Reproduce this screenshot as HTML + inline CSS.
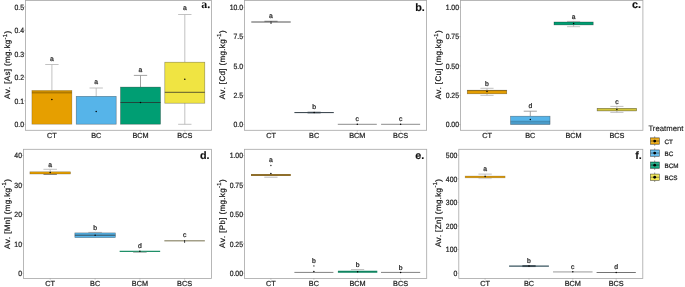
<!DOCTYPE html>
<html><head><meta charset="utf-8"><title>Boxplots</title>
<style>
html,body{margin:0;padding:0;background:#fff;}
body{width:685px;height:287px;overflow:hidden;}
svg{display:block;}
text{text-rendering:geometricPrecision;font-family:"Liberation Sans",sans-serif;fill:#1a1a1a;stroke:#222;stroke-width:0.22px;}
.tk{font-size:7.3px;fill:#1c1c1c;}
.yt{font-size:8px;letter-spacing:0.35px;font-kerning:none;fill:#111;}
.sg{font-size:6.8px;fill:#222;}
.sgs{font-family:"Liberation Serif",serif;font-size:7.2px;fill:#222;}
.tg{font-size:10.8px;font-weight:bold;fill:#111;stroke:#111;stroke-width:0.15px;}
.tgs{font-family:"Liberation Serif",serif;font-size:12px;font-weight:bold;fill:#111;stroke:none;}
.lt{font-size:7.75px;fill:#111;stroke-width:0.12px;}
.lg{font-size:6.3px;fill:#222;}
</style></head>
<body>
<svg width="685" height="287" viewBox="0 0 685 287">
<defs><filter id="id" x="0" y="0" width="685" height="287" filterUnits="userSpaceOnUse" color-interpolation-filters="sRGB"><feOffset dx="0" dy="0"/></filter></defs>
<rect x="0" y="0" width="685" height="287" fill="#ffffff"/>
<rect x="25.5" y="0.5" width="186.00" height="129.80" fill="#fff" stroke="#a6a6a6" stroke-width="0.8"/>
<line x1="24.2" x2="25.5" y1="6.8" y2="6.8" stroke="#999" stroke-width="0.6"/>
<line x1="24.2" x2="25.5" y1="30.3" y2="30.3" stroke="#999" stroke-width="0.6"/>
<line x1="24.2" x2="25.5" y1="53.8" y2="53.8" stroke="#999" stroke-width="0.6"/>
<line x1="24.2" x2="25.5" y1="77.3" y2="77.3" stroke="#999" stroke-width="0.6"/>
<line x1="24.2" x2="25.5" y1="100.8" y2="100.8" stroke="#999" stroke-width="0.6"/>
<line x1="24.2" x2="25.5" y1="124.3" y2="124.3" stroke="#999" stroke-width="0.6"/>
<line x1="51.9" x2="51.9" y1="130.3" y2="131.60000000000002" stroke="#999" stroke-width="0.6"/>
<line x1="96.2" x2="96.2" y1="130.3" y2="131.60000000000002" stroke="#999" stroke-width="0.6"/>
<line x1="140.5" x2="140.5" y1="130.3" y2="131.60000000000002" stroke="#999" stroke-width="0.6"/>
<line x1="184.8" x2="184.8" y1="130.3" y2="131.60000000000002" stroke="#999" stroke-width="0.6"/>
<path d="M51.9 90.4 V64.5 M45.23 64.5 H58.57" stroke="#b3b3b3" stroke-width="0.8" fill="none"/>
<rect x="31.90" y="90.4" width="40" height="33.80" fill="#E69F00" stroke="#000" stroke-width="0.6" stroke-opacity="0.3"/>
<line x1="31.90" x2="71.90" y1="92.6" y2="92.6" stroke="#000" stroke-width="2.0" stroke-opacity="0.24"/>
<circle cx="51.9" cy="99.4" r="0.75" fill="#000"/>
<path d="M96.2 96.3 V88.0 M89.53 88.0 H102.87" stroke="#b3b3b3" stroke-width="0.8" fill="none"/>
<rect x="76.20" y="96.3" width="40" height="27.90" fill="#56B4E9" stroke="#000" stroke-width="0.6" stroke-opacity="0.42"/>
<circle cx="96.2" cy="111.5" r="0.75" fill="#000"/>
<path d="M140.5 87.1 V75.4 M133.83 75.4 H147.17" stroke="#8a8a8a" stroke-width="0.8" fill="none"/>
<rect x="120.50" y="87.1" width="40" height="37.10" fill="#009E73" stroke="#000" stroke-width="0.6" stroke-opacity="0.42"/>
<line x1="120.50" x2="160.50" y1="102.5" y2="102.5" stroke="#2a2a2a" stroke-width="0.75" stroke-opacity="1"/>
<circle cx="140.5" cy="102.5" r="0.75" fill="#000"/>
<path d="M184.8 62.2 V14.5 M178.13 14.5 H191.47" stroke="#b3b3b3" stroke-width="0.8" fill="none"/>
<path d="M184.8 103.2 V124.3 M178.13 124.3 H191.47" stroke="#b3b3b3" stroke-width="0.8" fill="none"/>
<rect x="164.80" y="62.2" width="40" height="41.00" fill="#F0E442" stroke="#000" stroke-width="0.6" stroke-opacity="0.42"/>
<line x1="164.80" x2="204.80" y1="92.3" y2="92.3" stroke="#2a2a2a" stroke-width="0.75" stroke-opacity="1"/>
<circle cx="184.8" cy="79.3" r="0.75" fill="#000"/>
<rect x="244.5" y="0.5" width="182.10" height="129.80" fill="#fff" stroke="#a6a6a6" stroke-width="0.8"/>
<line x1="243.2" x2="244.5" y1="7.3" y2="7.3" stroke="#999" stroke-width="0.6"/>
<line x1="243.2" x2="244.5" y1="36.6" y2="36.6" stroke="#999" stroke-width="0.6"/>
<line x1="243.2" x2="244.5" y1="65.9" y2="65.9" stroke="#999" stroke-width="0.6"/>
<line x1="243.2" x2="244.5" y1="95.2" y2="95.2" stroke="#999" stroke-width="0.6"/>
<line x1="243.2" x2="244.5" y1="124.5" y2="124.5" stroke="#999" stroke-width="0.6"/>
<line x1="271.0" x2="271.0" y1="130.3" y2="131.60000000000002" stroke="#999" stroke-width="0.6"/>
<line x1="314.1" x2="314.1" y1="130.3" y2="131.60000000000002" stroke="#999" stroke-width="0.6"/>
<line x1="357.3" x2="357.3" y1="130.3" y2="131.60000000000002" stroke="#999" stroke-width="0.6"/>
<line x1="400.6" x2="400.6" y1="130.3" y2="131.60000000000002" stroke="#999" stroke-width="0.6"/>
<line x1="251.30" x2="290.70" y1="22.0" y2="22.0" stroke="#8c8c8c" stroke-width="1.5"/>
<line x1="264.43" x2="277.57" y1="21.3" y2="21.3" stroke="#555" stroke-width="0.8"/>
<line x1="271.0" x2="271.0" y1="21.3" y2="24.0" stroke="#333" stroke-width="1"/>
<line x1="307.53" x2="320.67" y1="112.6" y2="112.6" stroke="#a4abaf" stroke-width="2.2"/>
<line x1="294.40" x2="333.80" y1="112.6" y2="112.6" stroke="#2f3b44" stroke-width="1.0"/>
<circle cx="314.1" cy="112.6" r="0.75" fill="#000"/>
<line x1="337.80" x2="376.80" y1="124.3" y2="124.3" stroke="#777" stroke-width="0.85"/>
<circle cx="357.3" cy="124.3" r="0.75" fill="#000"/>
<line x1="381.10" x2="420.10" y1="124.3" y2="124.3" stroke="#777" stroke-width="0.85"/>
<circle cx="400.6" cy="124.3" r="0.75" fill="#000"/>
<rect x="460.5" y="0.5" width="182.40" height="129.80" fill="#fff" stroke="#a6a6a6" stroke-width="0.8"/>
<line x1="459.2" x2="460.5" y1="7.3" y2="7.3" stroke="#999" stroke-width="0.6"/>
<line x1="459.2" x2="460.5" y1="36.6" y2="36.6" stroke="#999" stroke-width="0.6"/>
<line x1="459.2" x2="460.5" y1="65.9" y2="65.9" stroke="#999" stroke-width="0.6"/>
<line x1="459.2" x2="460.5" y1="95.3" y2="95.3" stroke="#999" stroke-width="0.6"/>
<line x1="459.2" x2="460.5" y1="124.6" y2="124.6" stroke="#999" stroke-width="0.6"/>
<line x1="487.0" x2="487.0" y1="130.3" y2="131.60000000000002" stroke="#999" stroke-width="0.6"/>
<line x1="530.3" x2="530.3" y1="130.3" y2="131.60000000000002" stroke="#999" stroke-width="0.6"/>
<line x1="573.6" x2="573.6" y1="130.3" y2="131.60000000000002" stroke="#999" stroke-width="0.6"/>
<line x1="616.9" x2="616.9" y1="130.3" y2="131.60000000000002" stroke="#999" stroke-width="0.6"/>
<path d="M487.0 90.2 V88.3 M480.42 88.3 H493.58" stroke="#b3b3b3" stroke-width="0.8" fill="none"/>
<path d="M487.0 93.8 V95.35 M480.42 95.35 H493.58" stroke="#b3b3b3" stroke-width="0.8" fill="none"/>
<rect x="467.25" y="90.2" width="39.5" height="3.60" fill="#E69F00" stroke="#000" stroke-width="0.6" stroke-opacity="0.42"/>
<line x1="467.25" x2="506.75" y1="90.6" y2="90.6" stroke="#000" stroke-width="0.7" stroke-opacity="0.35"/>
<circle cx="487.0" cy="91.5" r="0.75" fill="#000"/>
<path d="M530.3 116.2 V111.2 M523.72 111.2 H536.88" stroke="#8c8c8c" stroke-width="0.8" fill="none"/>
<rect x="510.55" y="116.2" width="39.5" height="8.30" fill="#56B4E9" stroke="#000" stroke-width="0.6" stroke-opacity="0.42"/>
<rect x="510.55" y="121.2" width="39.5" height="3.30" fill="#000" fill-opacity="0.14"/>
<line x1="510.55" x2="550.05" y1="121.2" y2="121.2" stroke="#000" stroke-width="0.75" stroke-opacity="0.2"/>
<circle cx="530.3" cy="119.6" r="0.75" fill="#000"/>
<path d="M573.6 22.0 V21.4 M567.07 21.4 H580.13" stroke="#b3b3b3" stroke-width="0.8" fill="none"/>
<path d="M573.6 24.9 V26.7 M567.07 26.7 H580.13" stroke="#b3b3b3" stroke-width="0.8" fill="none"/>
<rect x="554.00" y="22.0" width="39.2" height="2.90" fill="#009E73" stroke="#000" stroke-width="0.6" stroke-opacity="0.45"/>
<circle cx="573.6" cy="23.6" r="0.75" fill="#000"/>
<path d="M616.9 108.3 V106.4 M610.32 106.4 H623.48" stroke="#b3b3b3" stroke-width="0.8" fill="none"/>
<path d="M616.9 110.9 V112.4 M610.32 112.4 H623.48" stroke="#b3b3b3" stroke-width="0.8" fill="none"/>
<rect x="597.15" y="108.3" width="39.5" height="2.60" fill="#d2c63c" stroke="#000" stroke-width="0.6" stroke-opacity="0.5"/>
<circle cx="616.9" cy="109.6" r="0.75" fill="#000"/>
<rect x="23.5" y="149.3" width="187.90" height="129.10" fill="#fff" stroke="#a6a6a6" stroke-width="0.8"/>
<line x1="22.2" x2="23.5" y1="155.5" y2="155.5" stroke="#999" stroke-width="0.6"/>
<line x1="22.2" x2="23.5" y1="184.9" y2="184.9" stroke="#999" stroke-width="0.6"/>
<line x1="22.2" x2="23.5" y1="214.3" y2="214.3" stroke="#999" stroke-width="0.6"/>
<line x1="22.2" x2="23.5" y1="243.8" y2="243.8" stroke="#999" stroke-width="0.6"/>
<line x1="22.2" x2="23.5" y1="273.2" y2="273.2" stroke="#999" stroke-width="0.6"/>
<line x1="50.2" x2="50.2" y1="278.4" y2="279.7" stroke="#999" stroke-width="0.6"/>
<line x1="95.1" x2="95.1" y1="278.4" y2="279.7" stroke="#999" stroke-width="0.6"/>
<line x1="139.9" x2="139.9" y1="278.4" y2="279.7" stroke="#999" stroke-width="0.6"/>
<line x1="184.6" x2="184.6" y1="278.4" y2="279.7" stroke="#999" stroke-width="0.6"/>
<path d="M50.2 171.8 V169.3 M43.43 169.3 H56.97" stroke="#b3b3b3" stroke-width="0.8" fill="none"/>
<rect x="29.90" y="171.8" width="40.6" height="2.20" fill="#E69F00" stroke="#000" stroke-width="0.6" stroke-opacity="0.35"/>
<circle cx="50.2" cy="172.4" r="0.75" fill="#000"/>
<line x1="43.50" x2="56.90" y1="174.45" y2="174.45" stroke="#5c5240" stroke-width="0.7"/>
<path d="M95.1 232.9 V232.4 M88.35 232.4 H101.85" stroke="#b3b3b3" stroke-width="0.8" fill="none"/>
<rect x="74.85" y="232.9" width="40.5" height="4.70" fill="#56B4E9" stroke="#000" stroke-width="0.6" stroke-opacity="0.42"/>
<line x1="74.85" x2="115.35" y1="235.2" y2="235.2" stroke="#2a2a2a" stroke-width="0.75" stroke-opacity="1"/>
<circle cx="95.1" cy="235.2" r="0.75" fill="#000"/>
<line x1="119.65" x2="160.15" y1="251.3" y2="251.3" stroke="#1f8f68" stroke-width="1.2"/>
<line x1="133.15" x2="146.65" y1="252.3" y2="252.3" stroke="#8c9a94" stroke-width="0.8"/>
<circle cx="139.9" cy="251.3" r="0.75" fill="#000"/>
<line x1="164.35" x2="204.85" y1="240.8" y2="240.8" stroke="#a39f88" stroke-width="1.6"/>
<line x1="184.6" x2="184.6" y1="240.0" y2="242.8" stroke="#333" stroke-width="1"/>
<rect x="244.5" y="149.3" width="182.20" height="129.10" fill="#fff" stroke="#a6a6a6" stroke-width="0.8"/>
<line x1="243.2" x2="244.5" y1="155.5" y2="155.5" stroke="#999" stroke-width="0.6"/>
<line x1="243.2" x2="244.5" y1="184.9" y2="184.9" stroke="#999" stroke-width="0.6"/>
<line x1="243.2" x2="244.5" y1="214.4" y2="214.4" stroke="#999" stroke-width="0.6"/>
<line x1="243.2" x2="244.5" y1="243.8" y2="243.8" stroke="#999" stroke-width="0.6"/>
<line x1="243.2" x2="244.5" y1="273.2" y2="273.2" stroke="#999" stroke-width="0.6"/>
<line x1="270.9" x2="270.9" y1="278.4" y2="279.7" stroke="#999" stroke-width="0.6"/>
<line x1="313.9" x2="313.9" y1="278.4" y2="279.7" stroke="#999" stroke-width="0.6"/>
<line x1="357.6" x2="357.6" y1="278.4" y2="279.7" stroke="#999" stroke-width="0.6"/>
<line x1="400.6" x2="400.6" y1="278.4" y2="279.7" stroke="#999" stroke-width="0.6"/>
<line x1="251.00" x2="290.80" y1="175.0" y2="175.0" stroke="#8f6f2c" stroke-width="1.8"/>
<line x1="264.27" x2="277.53" y1="177.2" y2="177.2" stroke="#aaa" stroke-width="0.8"/>
<circle cx="270.9" cy="165.5" r="0.65" fill="#111"/>
<circle cx="270.9" cy="173.5" r="0.75" fill="#000"/>
<line x1="294.40" x2="333.40" y1="272.4" y2="272.4" stroke="#555" stroke-width="0.75"/>
<circle cx="313.9" cy="265.9" r="0.65" fill="#111"/>
<circle cx="313.9" cy="271.4" r="0.75" fill="#000"/>
<line x1="337.90" x2="377.30" y1="271.8" y2="271.8" stroke="#0f8460" stroke-width="2.0"/>
<line x1="351.03" x2="364.17" y1="269.6" y2="269.6" stroke="#aaa" stroke-width="0.8"/>
<circle cx="357.6" cy="271.8" r="0.75" fill="#000"/>
<line x1="381.00" x2="420.20" y1="272.4" y2="272.4" stroke="#555" stroke-width="0.75"/>
<circle cx="400.6" cy="272.4" r="0.75" fill="#000"/>
<rect x="458.8" y="149.3" width="184.00" height="129.10" fill="#fff" stroke="#a6a6a6" stroke-width="0.8"/>
<line x1="457.5" x2="458.8" y1="155.2" y2="155.2" stroke="#999" stroke-width="0.6"/>
<line x1="457.5" x2="458.8" y1="178.8" y2="178.8" stroke="#999" stroke-width="0.6"/>
<line x1="457.5" x2="458.8" y1="202.4" y2="202.4" stroke="#999" stroke-width="0.6"/>
<line x1="457.5" x2="458.8" y1="226.0" y2="226.0" stroke="#999" stroke-width="0.6"/>
<line x1="457.5" x2="458.8" y1="249.6" y2="249.6" stroke="#999" stroke-width="0.6"/>
<line x1="457.5" x2="458.8" y1="273.2" y2="273.2" stroke="#999" stroke-width="0.6"/>
<line x1="485.1" x2="485.1" y1="278.4" y2="279.7" stroke="#999" stroke-width="0.6"/>
<line x1="529.0" x2="529.0" y1="278.4" y2="279.7" stroke="#999" stroke-width="0.6"/>
<line x1="572.8" x2="572.8" y1="278.4" y2="279.7" stroke="#999" stroke-width="0.6"/>
<line x1="616.2" x2="616.2" y1="278.4" y2="279.7" stroke="#999" stroke-width="0.6"/>
<line x1="478.50" x2="491.70" y1="178.6" y2="178.6" stroke="#ccc" stroke-width="0.7"/>
<path d="M485.1 176.0 V174.1 M478.43 174.1 H491.77" stroke="#b3b3b3" stroke-width="0.8" fill="none"/>
<rect x="465.10" y="176.0" width="40.0" height="1.90" fill="#d6960a" stroke="#6b5a33" stroke-width="0.5" stroke-opacity="0.42"/>
<circle cx="485.1" cy="176.5" r="0.75" fill="#000"/>
<line x1="509.10" x2="548.90" y1="266.1" y2="266.1" stroke="#38545f" stroke-width="1.2"/>
<line x1="522.37" x2="535.63" y1="266.1" y2="266.1" stroke="#3a4a52" stroke-width="1.9"/>
<circle cx="529.0" cy="266.1" r="0.75" fill="#000"/>
<line x1="553.05" x2="592.55" y1="271.8" y2="271.8" stroke="#c4c4c4" stroke-width="1.8"/>
<circle cx="572.8" cy="271.8" r="0.75" fill="#000"/>
<line x1="596.60" x2="635.80" y1="272.5" y2="272.5" stroke="#444" stroke-width="0.75"/>
<circle cx="616.2" cy="272.5" r="0.75" fill="#000"/>
<line x1="654.7" x2="654.7" y1="136.35" y2="145.75" stroke="#6a6a6a" stroke-width="0.7"/>
<rect x="650.3" y="137.85" width="9.1" height="6.4" fill="#E69F00" stroke="#4a4a4a" stroke-width="0.55"/>
<line x1="650.8" x2="658.9" y1="139.45" y2="139.45" stroke="#fff" stroke-opacity="0.38" stroke-width="0.6"/>
<line x1="650.8" x2="658.9" y1="142.65" y2="142.65" stroke="#fff" stroke-opacity="0.38" stroke-width="0.6"/>
<line x1="650.3" x2="659.4" y1="141.05" y2="141.05" stroke="#4a4a4a" stroke-width="0.5"/>
<circle cx="654.7" cy="141.05" r="1.4" fill="#000"/>
<line x1="654.7" x2="654.7" y1="148.42" y2="157.82" stroke="#6a6a6a" stroke-width="0.7"/>
<rect x="650.3" y="149.92" width="9.1" height="6.4" fill="#56B4E9" stroke="#4a4a4a" stroke-width="0.55"/>
<line x1="650.8" x2="658.9" y1="151.52" y2="151.52" stroke="#fff" stroke-opacity="0.38" stroke-width="0.6"/>
<line x1="650.8" x2="658.9" y1="154.72" y2="154.72" stroke="#fff" stroke-opacity="0.38" stroke-width="0.6"/>
<line x1="650.3" x2="659.4" y1="153.12" y2="153.12" stroke="#4a4a4a" stroke-width="0.5"/>
<circle cx="654.7" cy="153.12" r="1.4" fill="#000"/>
<line x1="654.7" x2="654.7" y1="160.49" y2="169.89" stroke="#6a6a6a" stroke-width="0.7"/>
<rect x="650.3" y="161.99" width="9.1" height="6.4" fill="#009E73" stroke="#4a4a4a" stroke-width="0.55"/>
<line x1="650.8" x2="658.9" y1="163.59" y2="163.59" stroke="#fff" stroke-opacity="0.38" stroke-width="0.6"/>
<line x1="650.8" x2="658.9" y1="166.79" y2="166.79" stroke="#fff" stroke-opacity="0.38" stroke-width="0.6"/>
<line x1="650.3" x2="659.4" y1="165.19" y2="165.19" stroke="#4a4a4a" stroke-width="0.5"/>
<circle cx="654.7" cy="165.19" r="1.4" fill="#000"/>
<line x1="654.7" x2="654.7" y1="172.56" y2="181.96" stroke="#6a6a6a" stroke-width="0.7"/>
<rect x="650.3" y="174.06" width="9.1" height="6.4" fill="#F0E442" stroke="#4a4a4a" stroke-width="0.55"/>
<line x1="650.8" x2="658.9" y1="175.66" y2="175.66" stroke="#fff" stroke-opacity="0.38" stroke-width="0.6"/>
<line x1="650.8" x2="658.9" y1="178.86" y2="178.86" stroke="#fff" stroke-opacity="0.38" stroke-width="0.6"/>
<line x1="650.3" x2="659.4" y1="177.26" y2="177.26" stroke="#4a4a4a" stroke-width="0.5"/>
<circle cx="654.7" cy="177.26" r="1.4" fill="#000"/>
<g filter="url(#id)">
<text transform="translate(24.00,9.55) scale(0.94,1.05)" text-anchor="end" class="tk">0.5</text>
<text transform="translate(24.00,33.05) scale(0.94,1.05)" text-anchor="end" class="tk">0.4</text>
<text transform="translate(24.00,56.55) scale(0.94,1.05)" text-anchor="end" class="tk">0.3</text>
<text transform="translate(24.00,80.05) scale(0.94,1.05)" text-anchor="end" class="tk">0.2</text>
<text transform="translate(24.00,103.55) scale(0.94,1.05)" text-anchor="end" class="tk">0.1</text>
<text transform="translate(24.00,127.05) scale(0.94,1.05)" text-anchor="end" class="tk">0.0</text>
<text x="51.9" y="137.5" text-anchor="middle" class="tk">CT</text>
<text x="96.2" y="137.5" text-anchor="middle" class="tk">BC</text>
<text x="140.5" y="137.5" text-anchor="middle" class="tk">BCM</text>
<text x="184.8" y="137.5" text-anchor="middle" class="tk">BCS</text>
<text transform="translate(9.8,64.70) rotate(-90)" text-anchor="middle" class="yt">Av. [As] (mg.kg<tspan dy="-3.3" font-size="5.9">-1</tspan><tspan dy="3.3">)</tspan></text>
<text x="210.3" y="8.0" text-anchor="end" class="tgs">a.</text>
<text x="51.9" y="60.70" text-anchor="middle" class="sg">a</text>
<text x="96.2" y="83.70" text-anchor="middle" class="sg">a</text>
<text x="140.5" y="71.90" text-anchor="middle" class="sg">a</text>
<text x="184.8" y="9.60" text-anchor="middle" class="sg">a</text>
<text transform="translate(243.00,10.05) scale(0.94,1.05)" text-anchor="end" class="tk">10.0</text>
<text transform="translate(243.00,39.35) scale(0.94,1.05)" text-anchor="end" class="tk">7.5</text>
<text transform="translate(243.00,68.65) scale(0.94,1.05)" text-anchor="end" class="tk">5.0</text>
<text transform="translate(243.00,97.95) scale(0.94,1.05)" text-anchor="end" class="tk">2.5</text>
<text transform="translate(243.00,127.25) scale(0.94,1.05)" text-anchor="end" class="tk">0.0</text>
<text x="271.0" y="137.5" text-anchor="middle" class="tk">CT</text>
<text x="314.1" y="137.5" text-anchor="middle" class="tk">BC</text>
<text x="357.3" y="137.5" text-anchor="middle" class="tk">BCM</text>
<text x="400.6" y="137.5" text-anchor="middle" class="tk">BCS</text>
<text transform="translate(224.7,64.70) rotate(-90)" text-anchor="middle" class="yt">Av. [Cd] (mg.kg<tspan dy="-3.3" font-size="5.9">-1</tspan><tspan dy="3.3">)</tspan></text>
<text x="424.8" y="11.0" text-anchor="end" class="tg">b.</text>
<text x="271.0" y="17.80" text-anchor="middle" class="sg">a</text>
<text x="314.1" y="109.05" text-anchor="middle" class="sg">b</text>
<text x="357.3" y="121.20" text-anchor="middle" class="sg">c</text>
<text x="400.6" y="121.20" text-anchor="middle" class="sg">c</text>
<text transform="translate(459.00,10.05) scale(0.94,1.05)" text-anchor="end" class="tk">1.00</text>
<text transform="translate(459.00,39.35) scale(0.94,1.05)" text-anchor="end" class="tk">0.75</text>
<text transform="translate(459.00,68.65) scale(0.94,1.05)" text-anchor="end" class="tk">0.50</text>
<text transform="translate(459.00,98.05) scale(0.94,1.05)" text-anchor="end" class="tk">0.25</text>
<text transform="translate(459.00,127.35) scale(0.94,1.05)" text-anchor="end" class="tk">0.00</text>
<text x="487.0" y="137.5" text-anchor="middle" class="tk">CT</text>
<text x="530.3" y="137.5" text-anchor="middle" class="tk">BC</text>
<text x="573.6" y="137.5" text-anchor="middle" class="tk">BCM</text>
<text x="616.9" y="137.5" text-anchor="middle" class="tk">BCS</text>
<text transform="translate(440.9,64.70) rotate(-90)" text-anchor="middle" class="yt">Av. [Cu] (mg.kg<tspan dy="-3.3" font-size="5.9">-1</tspan><tspan dy="3.3">)</tspan></text>
<text x="640.9" y="8.2" text-anchor="end" class="tg">c.</text>
<text x="487.0" y="85.65" text-anchor="middle" class="sg">b</text>
<text x="530.3" y="108.20" text-anchor="middle" class="sg">d</text>
<text x="573.6" y="18.50" text-anchor="middle" class="sg">a</text>
<text x="616.9" y="103.70" text-anchor="middle" class="sg">c</text>
<text transform="translate(22.00,158.25) scale(0.94,1.05)" text-anchor="end" class="tk">40</text>
<text transform="translate(22.00,187.65) scale(0.94,1.05)" text-anchor="end" class="tk">30</text>
<text transform="translate(22.00,217.05) scale(0.94,1.05)" text-anchor="end" class="tk">20</text>
<text transform="translate(22.00,246.55) scale(0.94,1.05)" text-anchor="end" class="tk">10</text>
<text transform="translate(22.00,275.95) scale(0.94,1.05)" text-anchor="end" class="tk">0</text>
<text x="50.2" y="285.6" text-anchor="middle" class="tk">CT</text>
<text x="95.1" y="285.6" text-anchor="middle" class="tk">BC</text>
<text x="139.9" y="285.6" text-anchor="middle" class="tk">BCM</text>
<text x="184.6" y="285.6" text-anchor="middle" class="tk">BCS</text>
<text transform="translate(9.7,213.85) rotate(-90)" text-anchor="middle" class="yt">Av. [Mn] (mg.kg<tspan dy="-3.3" font-size="5.9">-1</tspan><tspan dy="3.3">)</tspan></text>
<text x="209.5" y="159.0" text-anchor="end" class="tg">d.</text>
<text x="50.2" y="166.60" text-anchor="middle" class="sg">a</text>
<text x="95.1" y="229.85" text-anchor="middle" class="sg">b</text>
<text x="139.9" y="248.15" text-anchor="middle" class="sg">d</text>
<text x="184.6" y="237.30" text-anchor="middle" class="sg">c</text>
<text transform="translate(243.00,158.25) scale(0.94,1.05)" text-anchor="end" class="tk">1.00</text>
<text transform="translate(243.00,187.65) scale(0.94,1.05)" text-anchor="end" class="tk">0.75</text>
<text transform="translate(243.00,217.15) scale(0.94,1.05)" text-anchor="end" class="tk">0.50</text>
<text transform="translate(243.00,246.55) scale(0.94,1.05)" text-anchor="end" class="tk">0.25</text>
<text transform="translate(243.00,275.95) scale(0.94,1.05)" text-anchor="end" class="tk">0.00</text>
<text x="270.9" y="285.6" text-anchor="middle" class="tk">CT</text>
<text x="313.9" y="285.6" text-anchor="middle" class="tk">BC</text>
<text x="357.6" y="285.6" text-anchor="middle" class="tk">BCM</text>
<text x="400.6" y="285.6" text-anchor="middle" class="tk">BCS</text>
<text transform="translate(224.7,213.55) rotate(-90)" text-anchor="middle" class="yt">Av. [Pb] (mg.kg<tspan dy="-3.3" font-size="5.9">-1</tspan><tspan dy="3.3">)</tspan></text>
<text x="424.3" y="159.0" text-anchor="end" class="tg">e.</text>
<text x="270.9" y="162.10" text-anchor="middle" class="sg">a</text>
<text x="313.9" y="263.05" text-anchor="middle" class="sg">b</text>
<text x="357.6" y="267.15" text-anchor="middle" class="sg">b</text>
<text x="400.6" y="269.75" text-anchor="middle" class="sg">b</text>
<text transform="translate(457.30,157.95) scale(0.94,1.05)" text-anchor="end" class="tk">500</text>
<text transform="translate(457.30,181.55) scale(0.94,1.05)" text-anchor="end" class="tk">400</text>
<text transform="translate(457.30,205.15) scale(0.94,1.05)" text-anchor="end" class="tk">300</text>
<text transform="translate(457.30,228.75) scale(0.94,1.05)" text-anchor="end" class="tk">200</text>
<text transform="translate(457.30,252.35) scale(0.94,1.05)" text-anchor="end" class="tk">100</text>
<text transform="translate(457.30,275.95) scale(0.94,1.05)" text-anchor="end" class="tk">0</text>
<text x="485.1" y="285.6" text-anchor="middle" class="tk">CT</text>
<text x="529.0" y="285.6" text-anchor="middle" class="tk">BC</text>
<text x="572.8" y="285.6" text-anchor="middle" class="tk">BCM</text>
<text x="616.2" y="285.6" text-anchor="middle" class="tk">BCS</text>
<text transform="translate(440.6,212.85) rotate(-90)" text-anchor="middle" class="yt">Av. [Zn] (mg.kg<tspan dy="-3.3" font-size="5.9">-1</tspan><tspan dy="3.3">)</tspan></text>
<text x="641.8" y="159.0" text-anchor="end" class="tg">f.</text>
<text x="485.1" y="171.40" text-anchor="middle" class="sg">a</text>
<text x="529.0" y="262.65" text-anchor="middle" class="sg">b</text>
<text x="572.8" y="268.80" text-anchor="middle" class="sg">c</text>
<text x="616.2" y="269.45" text-anchor="middle" class="sg">d</text>
<text x="648.4" y="130.9" class="lt">Treatment</text>
<text x="664.5" y="143.55" class="lg">CT</text>
<text x="664.5" y="155.62" class="lg">BC</text>
<text x="664.5" y="167.69" class="lg">BCM</text>
<text x="664.5" y="179.76" class="lg">BCS</text>
</g>
</svg>
</body></html>
